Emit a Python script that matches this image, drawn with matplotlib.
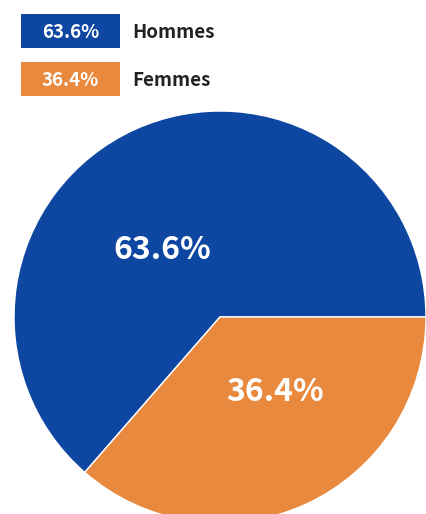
import matplotlib
matplotlib.use("Agg")
import matplotlib.pyplot as plt
import numpy as np

labels = ["Hommes", "Femmes"]
values = [63.6, 36.4]
colors = ["#0d47a1", "#e8893e"]

W, H = 427, 514
cx, cy, r = 220, H - 317, 206

plt.rcParams['font.family'] = ['Noto Sans CJK JP', 'DejaVu Sans']

fig = plt.figure(figsize=(W / 100, H / 100), dpi=100)
ax = fig.add_axes([0, 0, 1, 1])
ax.set_xlim(0, W)
ax.set_ylim(0, H)
ax.set_aspect("equal")

wedges, _ = ax.pie(values, colors=colors, startangle=0, counterclock=True,
                   center=(cx, cy), radius=r, frame=True,
                   wedgeprops=dict(edgecolor="white", linewidth=1))
ax.axis("off")

# slice labels (slightly rotated from mid angle, as in the source)
shift = [15, 13]
for w, v, s in zip(wedges, values, shift):
    mid = np.deg2rad((w.theta1 + w.theta2) / 2 + s)
    d = 0.44 * r
    ax.text(cx + d * np.cos(mid), cy + d * np.sin(mid) - 3, "{:.1f}%".format(v),
            ha="center", va="center", color="white", fontsize=23,
            fontweight="bold")

# legend boxes
for i, (lab, v, c) in enumerate(zip(labels, values, colors)):
    top = 14 + i * 48
    ax.add_patch(plt.Rectangle((21, H - top - 34), 99, 34, color=c, lw=0))
    ax.text(70.5, H - top - 18, "{:.1f}%".format(v), ha="center",
            va="center", color="white", fontsize=13.5, fontweight="bold")
    ax.text(132, H - top - 18, lab, ha="left", va="center",
            color="#222222", fontsize=13.5, fontweight="bold")

fig.savefig("out.png", dpi=100)
